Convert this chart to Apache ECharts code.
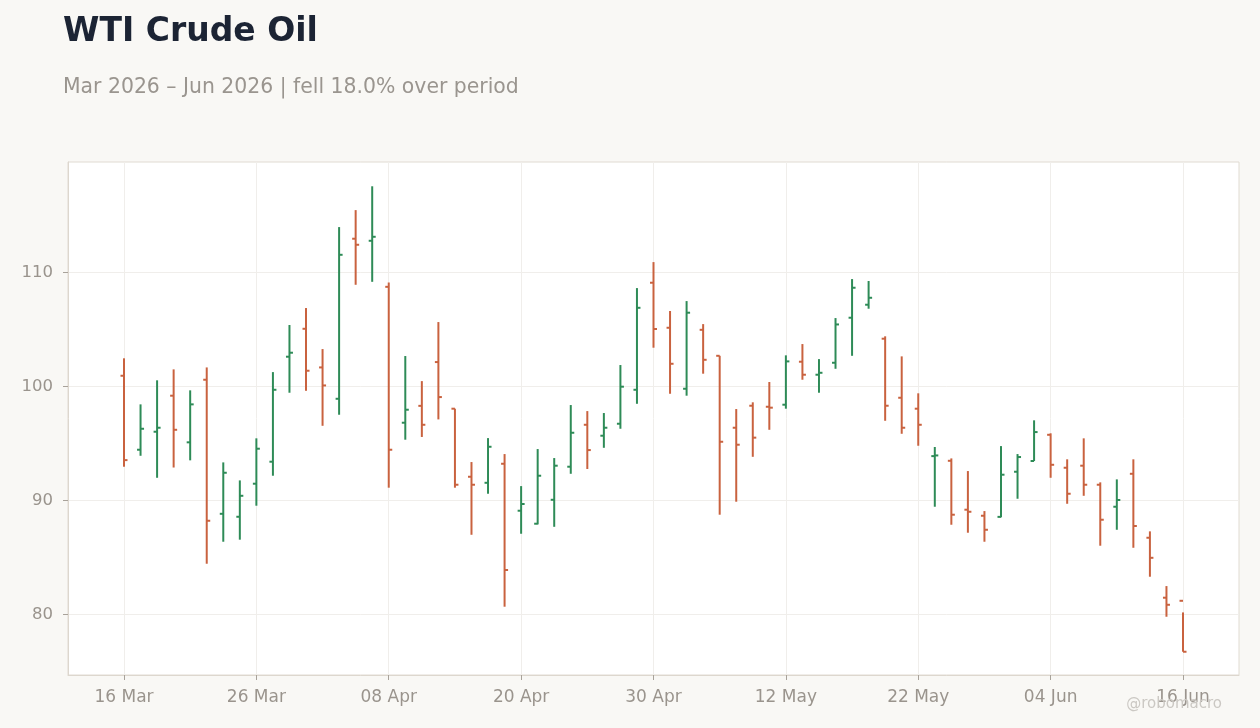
<!DOCTYPE html>
<html>
<head>
<meta charset="utf-8">
<script src="https://cdn.jsdelivr.net/npm/echarts@6/dist/echarts.min.js"></script>
<style>
html,body{margin:0;padding:0;background:#f9f8f5;}
#c{width:1260px;height:728px;}
</style>
</head>
<body>
<div id="c"></div>
<script>
const dates = [
'16 Mar','17 Mar','18 Mar','19 Mar','20 Mar','23 Mar','24 Mar','25 Mar','26 Mar','27 Mar','30 Mar','31 Mar',
'01 Apr','02 Apr','06 Apr','07 Apr','08 Apr','09 Apr','10 Apr','13 Apr','14 Apr','15 Apr','16 Apr','17 Apr',
'20 Apr','21 Apr','22 Apr','23 Apr','24 Apr','27 Apr','28 Apr','29 Apr','30 Apr',
'01 May','04 May','05 May','06 May','07 May','08 May','11 May','12 May','13 May','14 May','15 May',
'18 May','19 May','20 May','21 May','22 May','26 May','27 May','28 May','29 May',
'01 Jun','02 Jun','03 Jun','04 Jun','05 Jun','08 Jun','09 Jun','10 Jun','11 Jun','12 Jun','15 Jun','16 Jun'
];
const openV = [100.93,94.44,96.02,99.18,95.09,100.58,88.82,88.56,91.46,93.39,102.60,105.05,101.66,98.91,112.95,112.77,
108.73,96.81,98.29,102.13,98.04,92.07,91.54,93.21,89.09,87.95,90.05,92.95,96.63,95.67,96.72,99.70,
109.09,105.14,99.79,104.96,102.68,96.37,98.30,98.21,98.39,102.16,101.02,102.07,106.02,107.16,
104.18,99.00,98.04,93.88,93.47,89.18,88.65,88.55,92.51,93.45,95.75,92.86,93.04,91.37,89.44,92.33,86.72,81.46,81.19];
const highV = [102.46,98.42,100.53,101.49,99.65,101.66,93.33,91.75,95.44,101.25,105.38,106.87,103.27,113.97,115.46,117.55,
109.11,102.66,100.46,105.64,98.04,93.36,95.46,94.06,91.25,94.50,93.71,98.36,97.83,97.66,101.87,108.62,
110.90,106.61,107.48,105.46,102.68,98.01,98.60,100.38,102.72,103.71,102.39,105.99,109.41,109.24,
104.39,102.63,99.39,94.68,93.68,92.57,89.06,94.76,94.06,97.02,95.88,93.60,95.44,91.58,91.84,93.60,87.28,82.48,80.17];
const lowV = [92.95,93.91,91.98,92.88,93.51,84.44,86.37,86.55,89.53,92.16,99.44,99.61,96.54,97.51,108.91,109.17,
91.11,95.32,95.56,97.10,91.11,86.98,90.58,80.67,87.07,87.89,87.68,92.33,92.75,94.61,96.28,98.47,
103.39,99.35,99.18,101.11,88.74,89.88,93.82,96.19,98.04,100.58,99.44,101.54,102.68,106.81,
96.98,95.84,94.79,89.44,87.86,87.16,86.37,88.51,90.14,93.45,91.98,89.70,90.40,86.02,87.42,85.84,83.30,79.79,76.72];
const closeV = [93.53,96.28,96.37,96.19,98.42,88.21,92.42,90.40,94.53,99.70,102.95,101.37,100.08,111.54,112.42,113.12,
94.44,97.95,96.63,99.06,91.37,91.37,94.70,83.89,89.68,92.16,93.04,95.93,94.41,96.37,99.97,106.89,
105.03,101.98,106.46,102.33,95.14,94.88,95.50,98.13,102.19,101.02,101.19,105.43,108.65,107.77,
98.30,96.37,96.63,93.94,88.74,89.00,87.42,92.25,93.80,95.99,93.12,90.58,91.37,88.30,90.03,87.75,84.96,80.84,76.72];
const xTickIdx = [0,8,16,24,32,40,48,56,64];
const yTicks = [80,90,100,110];

const GREEN = '#2e8b57';
const RED = '#c9623f';
const FONT = 'DejaVu Sans';

const seriesData = dates.map((d, i) => [i, openV[i], closeV[i], lowV[i], highV[i]]);

function renderItem(params, api) {
  const i = api.value(0);
  const o = api.coord([i, api.value(1)]);
  const c = api.coord([i, api.value(2)]);
  const l = api.coord([i, api.value(3)]);
  const h = api.coord([i, api.value(4)]);
  const col = api.value(2) >= api.value(1) ? GREEN : RED;
  const style = { stroke: col, lineWidth: 2 };
  return {
    type: 'group',
    children: [
      { type: 'line', shape: { x1: h[0], y1: h[1], x2: l[0], y2: l[1] }, style },
      { type: 'line', shape: { x1: o[0] - 3.5, y1: o[1], x2: o[0], y2: o[1] }, style },
      { type: 'line', shape: { x1: c[0], y1: c[1], x2: c[0] + 3.5, y2: c[1] }, style }
    ]
  };
}

const chart = echarts.init(document.getElementById('c'), null, { renderer: 'canvas' });
chart.setOption({
  backgroundColor: '#f9f8f5',
  animation: false,
  title: [
    { text: 'WTI Crude Oil', left: 63, top: 16, padding: 0,
      textStyle: { fontFamily: FONT, fontSize: 33, fontWeight: 'bold', color: '#1c2434' } },
    { text: 'Mar 2026 – Jun 2026 | fell 18.0% over period', left: 63, top: 78, padding: 0,
      textStyle: { fontFamily: FONT, fontSize: 20.4, fontWeight: 'normal', color: '#9a958f' } }
  ],
  grid: {
    left: 68, right: 21, top: 162, bottom: 53,
    containLabel: false, outerBoundsMode: 'none',
    show: true, backgroundColor: '#ffffff', borderColor: '#e0dbd2', borderWidth: 1
  },
  xAxis: {
    type: 'value', min: -3.384, max: 67.384,
    axisLine: { show: true, onZero: false, lineStyle: { color: '#ddd7ce', width: 1 } },
    axisTick: { show: true, customValues: xTickIdx, length: 5, lineStyle: { color: '#a8a29a' } },
    axisLabel: { customValues: xTickIdx, formatter: v => dates[Math.round(v)] || '',
      color: '#9a948d', fontFamily: FONT, fontSize: 17, margin: 14 },
    splitLine: { show: true, lineStyle: { color: '#f0eeeb', width: 1 } }
  },
  yAxis: {
    type: 'value', min: 74.68, max: 119.68,
    axisLine: { show: true, onZero: false, lineStyle: { color: '#ddd7ce', width: 1 } },
    axisTick: { show: true, customValues: yTicks, length: 5, lineStyle: { color: '#a8a29a' } },
    axisLabel: { customValues: yTicks, color: '#9a948d', fontFamily: FONT, fontSize: 16.5, margin: 15 },
    splitLine: { show: true, lineStyle: { color: '#f0eeeb', width: 1 } }
  },
  graphic: [
    { type: 'text', right: 38, top: 697, z: 100,
      style: { text: '@robomacro', fontFamily: FONT, fontSize: 15, fill: '#cbc8c3' } }
  ],
  series: [{
    type: 'custom',
    renderItem: renderItem,
    data: seriesData,
    encode: { x: 0, y: [1, 2, 3, 4] },
    clip: false
  }]
});
</script>
</body>
</html>
